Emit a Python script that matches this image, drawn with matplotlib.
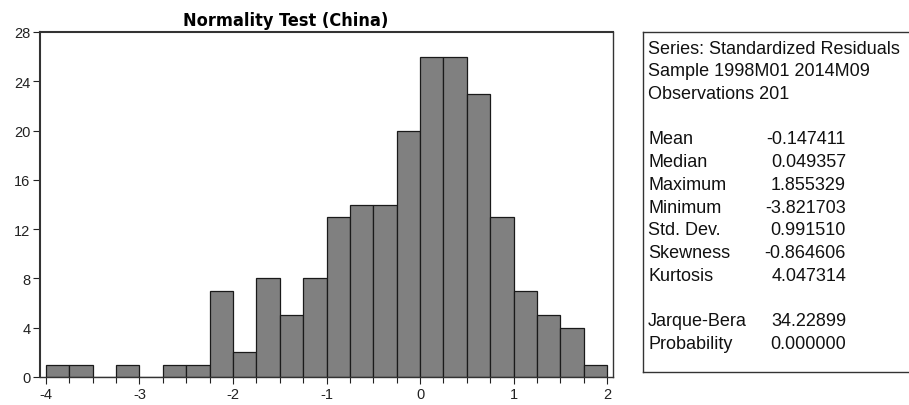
import matplotlib
matplotlib.use("Agg")
import matplotlib.pyplot as plt
import numpy as np

# histogram of standardized residuals, bins of width 0.25 from -4 to 2
bin_edges = np.arange(-4.0, 2.0001, 0.25)
counts = [1, 1, 0, 1, 0, 1, 1, 7, 2, 8, 5, 8,
          13, 14, 14, 20, 26, 26, 23, 13, 7, 5, 4, 1]

title = "Normality Test (China)"
x_ticks = [-4, -3, -2, -1, 0, 1, 2]
y_ticks = [0, 4, 8, 12, 16, 20, 24, 28]

header_lines = ["Series: Standardized Residuals",
                "Sample 1998M01 2014M09",
                "Observations 201"]
stat_names = ["Mean", "Median", "Maximum", "Minimum", "Std. Dev.",
              "Skewness", "Kurtosis"]
stat_values = ["-0.147411", "0.049357", "1.855329", "-3.821703", "0.991510",
               "-0.864606", "4.047314"]
test_names = ["Jarque-Bera", "Probability"]
test_values = ["34.22899", "0.000000"]

plt.rcParams["font.family"] = ["Liberation Sans", "DejaVu Sans"]

W, H = 909, 406
fig = plt.figure(figsize=(W / 100, H / 100), dpi=100)


def fx(px):
    return px / W


def fy(py):
    return 1 - py / H


ax = fig.add_axes([fx(40), fy(378), fx(613) - fx(40), fy(33) - fy(378)])
ax.bar(bin_edges[:-1], counts, width=0.25, align="edge",
       color="#808080", edgecolor="#1a1a1a", linewidth=0.9)
ax.set_xlim(-4.064, 2.064)
ax.set_ylim(0, 28)
ax.set_xticks(x_ticks)
ax.set_xticklabels([str(t) for t in x_ticks])
ax.set_xticks(bin_edges, minor=True)
ax.set_yticks(y_ticks)
ax.tick_params(axis="both", labelsize=10.5, colors="#222222", width=0.8,
               length=5, pad=2)
ax.tick_params(axis="x", which="minor", length=4, width=0.8, color="#222222")
ax.tick_params(axis="y", which="minor", left=False)
for name, sp in ax.spines.items():
    sp.set_color("#333333")
    sp.set_linewidth(1.5 if name in ("left", "top") else 1.0)

fig.text(fx(286), fy(26), title, ha="center", va="baseline", fontsize=13,
         fontweight="bold", fontstretch="condensed", family="DejaVu Sans")

# statistics panel, open on the right where it runs off the image
box = fig.add_axes([fx(643), fy(373), fx(915) - fx(643), fy(33) - fy(373)])
box.set_xticks([])
box.set_yticks([])
for sp in box.spines.values():
    sp.set_color("#333333")
    sp.set_linewidth(1.0)

fs = 13
step = 22.75


def put_rows(names, values, top):
    for i, n in enumerate(names):
        yy = fy(top + i * step)
        fig.text(fx(648), yy, n, ha="left", va="center", fontsize=fs,
                 color="#111111")
        if values is not None:
            fig.text(fx(846), yy, values[i], ha="right", va="center",
                     fontsize=fs, color="#111111")


top = 49
put_rows(header_lines, None, top)
put_rows(stat_names, stat_values, top + 4 * step)
put_rows(test_names, test_values, top + 12 * step)

fig.savefig("out.png", dpi=100)
